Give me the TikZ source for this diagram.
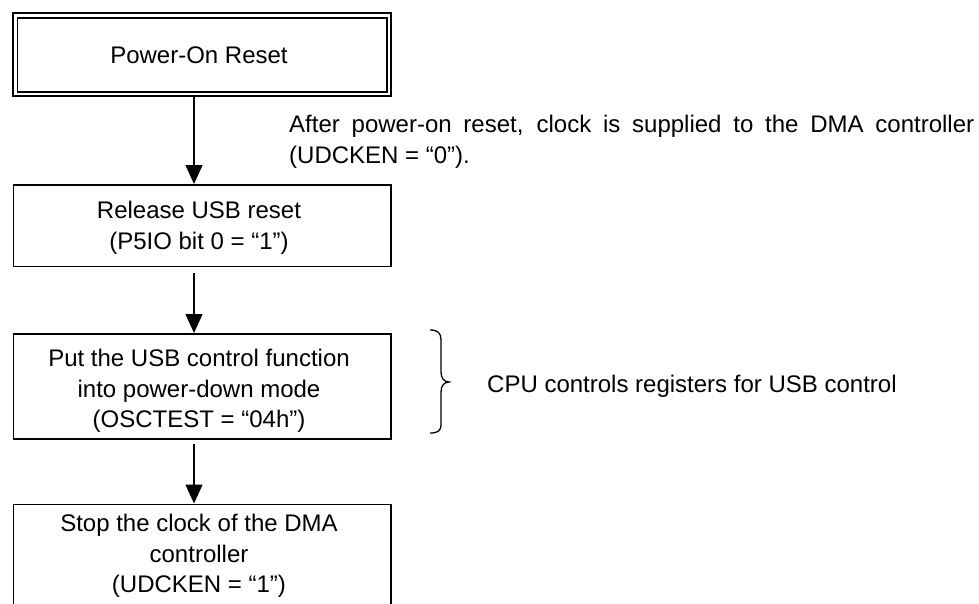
\documentclass[tikz,border=0pt]{standalone}
\usepackage{fontspec}
\setmainfont{Liberation Sans}
\usetikzlibrary{arrows.meta}
\begin{document}
\begin{tikzpicture}[x=1pt,y=-1pt,
  boxstyle/.style={draw, line width=1.8pt, minimum width=377.5pt, inner sep=0pt, anchor=north west},
  txt/.style={font=\fontsize{24}{29}\selectfont, inner sep=0pt, anchor=base},
  note/.style={font=\fontsize{24}{29}\selectfont, inner sep=0pt, anchor=base west},
  flow/.style={line width=1.3pt, -{Triangle[width=17pt,length=19pt]}}]
\useasboundingbox (0,0) rectangle (979,603);
\clip (0,0) rectangle (979,603);
% boxes
\node[boxstyle, line width=2.2pt, minimum width=377.8pt, minimum height=82.8pt] (b1) at (12.2,12.2) {};
\draw[line width=1.6pt] ([xshift=5.4pt,yshift=-5.6pt]b1.north west) rectangle ([xshift=-5.5pt,yshift=5pt]b1.south east);
\node[boxstyle, minimum height=81.5pt] (b2) at (12.5,184) {};
\node[boxstyle, minimum height=105pt] (b3) at (12.5,333) {};
\node[boxstyle, minimum height=110pt] (b4) at (12.5,503.5) {};
% texts
\node[txt] (t1) at (199,63) {Power-On Reset};
\node[txt] (t2a) at (199,218) {Release USB reset};
\node[txt] (t2b) at (199,249) {(P5IO bit 0 = “1”)};
\node[txt] (t3a) at (199,366.5) {Put the USB control function};
\node[txt] (t3b) at (199,397) {into power-down mode};
\node[txt] (t3c) at (199,427.5) {(OSCTEST = “04h”)};
\node[txt] (t4a) at (199,531.5) {Stop the clock of the DMA};
\node[txt] (t4b) at (199,562) {controller};
\node[txt] (t4c) at (199,592.5) {(UDCKEN = “1”)};
% annotations
\node[note] (n1) at (289,132) {\makebox[685pt][s]{After power-on reset, clock is supplied to the DMA controller}};
\node[note] (n2) at (289,163) {(UDCKEN = “0”).};
\node[note] (n3) at (487,392) {CPU controls registers for USB control};
% brace
\draw[line width=1.3pt] (430,330) .. controls (438,330) and (441,333) .. (441,340) -- (441,372)
  .. controls (441,378) and (444,382) .. (449,382)
  .. controls (444,382) and (441,386) .. (441,392) -- (441,424)
  .. controls (441,431) and (438,433) .. (430,433);
% arrows
\coordinate (ax) at (194,0);
\draw[flow] (b1.south -| ax) -- (b2.north -| ax);
\draw[flow] ([yshift=-5.5pt]b2.south -| ax) -- (b3.north -| ax);
\draw[flow] ([yshift=-4pt]b3.south -| ax) -- (b4.north -| ax);
\end{tikzpicture}
\end{document}
